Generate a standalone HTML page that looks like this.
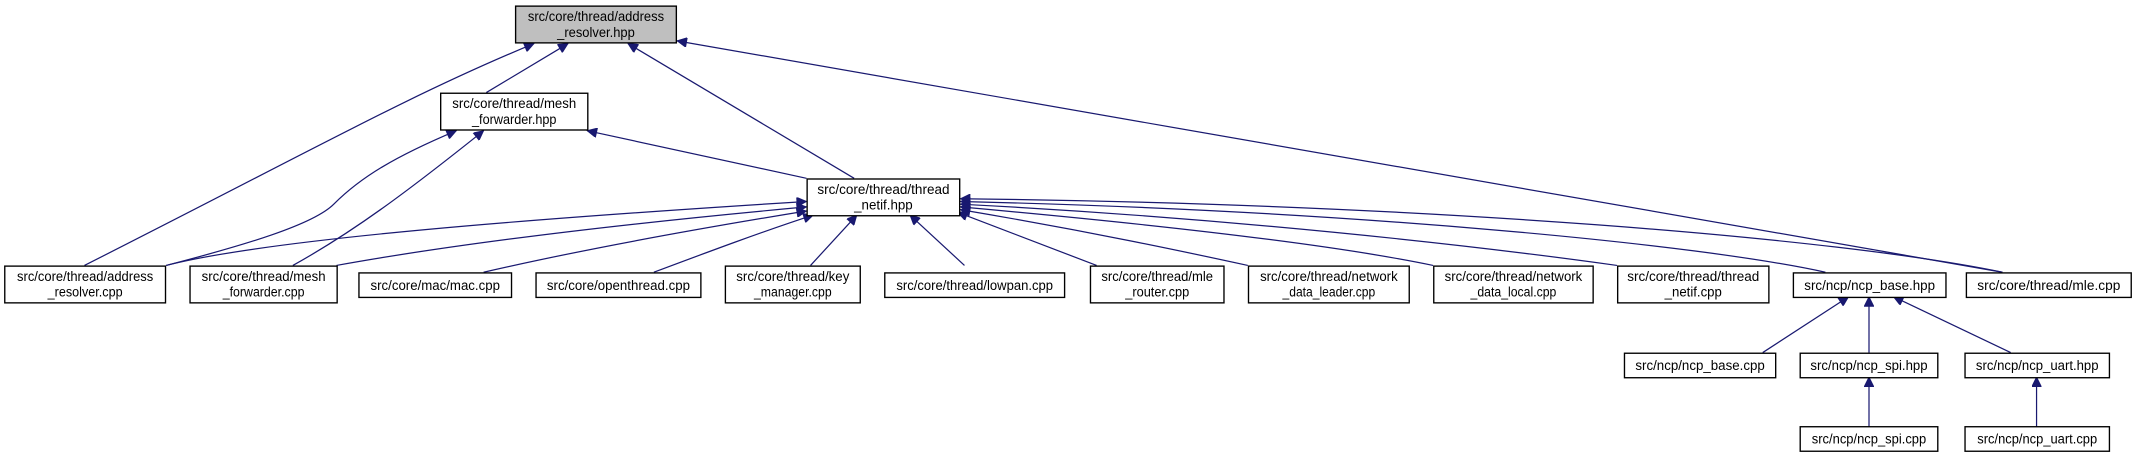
<!DOCTYPE html>
<html><head><meta charset="utf-8"><style>
html,body{margin:0;padding:0;background:#fff;}
svg{display:block;}
text{font-family:"Liberation Sans",Arial,sans-serif;font-size:10px;fill:#000;}
rect{fill:#fff;stroke:#000;stroke-width:1;}
path{fill:none;stroke:#191970;stroke-width:0.9;}
</style></head><body>
<svg width="2136" height="456" viewBox="0 0 1568 335" preserveAspectRatio="none" xmlns="http://www.w3.org/2000/svg">
<defs>
<marker id="a" viewBox="0 0 10 10" refX="0" refY="5" markerWidth="8" markerHeight="7" markerUnits="userSpaceOnUse" orient="auto">
<path d="M0,5 L10,0 L10,10 Z" style="fill:#191970;stroke:#191970"/>
</marker>
</defs>
<g marker-start="url(#a)">
<path d="M392,32 C300,70 230,110 62,195"/>
<path d="M417,32 L357,68"/>
<path d="M461,32 L627,131"/>
<path d="M497,30 L1470,200"/>
<path d="M431,96 L592,131"/>
<path d="M335,96 C290,115 265,130 245,150 C230,165 180,180 122,195"/>
<path d="M355,96 C300,140 260,170 215,195"/>
<path d="M592,148 C400,160 200,175 122,195"/>
<path d="M592,152 C450,165 330,180 247,195"/>
<path d="M592,155 C500,170 420,185 355,200"/>
<path d="M597,158 C560,170 520,185 480,200"/>
<path d="M629,158 L595,195"/>
<path d="M668,158 L708,195"/>
<path d="M703,156 L805,195"/>
<path d="M705,154 C800,170 870,185 916,195"/>
<path d="M705,152 C850,165 980,180 1052,195"/>
<path d="M705,150 C900,160 1080,180 1187,195"/>
<path d="M705,148 C1000,155 1250,180 1340,200"/>
<path d="M705,146 C1050,150 1350,175 1470,200"/>
<path d="M1357,218 L1294,259"/>
<path d="M1372,218 L1372,259"/>
<path d="M1390,218 L1476,259"/>
<path d="M1372,277 L1372,314"/>
<path d="M1495,277 L1495,314"/>
</g>
<g>
<rect x="378.5" y="4.5" width="118" height="27" style="fill:#bfbfbf"/>
<text x="437.5" y="15.5" text-anchor="middle" textLength="100" lengthAdjust="spacingAndGlyphs">src/core/thread/address</text>
<text x="437.5" y="27" text-anchor="middle" textLength="57" lengthAdjust="spacingAndGlyphs">_resolver.hpp</text>

<rect x="323.5" y="68.5" width="108" height="27"/>
<text x="377.5" y="79.5" text-anchor="middle" textLength="91" lengthAdjust="spacingAndGlyphs">src/core/thread/mesh</text>
<text x="377.5" y="91" text-anchor="middle" textLength="62" lengthAdjust="spacingAndGlyphs">_forwarder.hpp</text>

<rect x="592.5" y="131.5" width="112" height="27"/>
<text x="648.5" y="142.5" text-anchor="middle" textLength="97" lengthAdjust="spacingAndGlyphs">src/core/thread/thread</text>
<text x="648.5" y="154" text-anchor="middle" textLength="43" lengthAdjust="spacingAndGlyphs">_netif.hpp</text>

<rect x="3.5" y="195.5" width="118" height="27"/>
<text x="62.5" y="206.5" text-anchor="middle" textLength="100" lengthAdjust="spacingAndGlyphs">src/core/thread/address</text>
<text x="62.5" y="218" text-anchor="middle" textLength="55" lengthAdjust="spacingAndGlyphs">_resolver.cpp</text>

<rect x="139.5" y="195.5" width="108" height="27"/>
<text x="193.5" y="206.5" text-anchor="middle" textLength="91" lengthAdjust="spacingAndGlyphs">src/core/thread/mesh</text>
<text x="193.5" y="218" text-anchor="middle" textLength="60" lengthAdjust="spacingAndGlyphs">_forwarder.cpp</text>

<rect x="263.5" y="200.5" width="112" height="18"/>
<text x="319.5" y="213" text-anchor="middle" textLength="95" lengthAdjust="spacingAndGlyphs">src/core/mac/mac.cpp</text>

<rect x="393.5" y="200.5" width="121" height="18"/>
<text x="454" y="213" text-anchor="middle" textLength="105" lengthAdjust="spacingAndGlyphs">src/core/openthread.cpp</text>

<rect x="532.5" y="195.5" width="99" height="27"/>
<text x="582" y="206.5" text-anchor="middle" textLength="83" lengthAdjust="spacingAndGlyphs">src/core/thread/key</text>
<text x="582" y="218" text-anchor="middle" textLength="57" lengthAdjust="spacingAndGlyphs">_manager.cpp</text>

<rect x="649.5" y="200.5" width="132" height="18"/>
<text x="715.5" y="213" text-anchor="middle" textLength="115" lengthAdjust="spacingAndGlyphs">src/core/thread/lowpan.cpp</text>

<rect x="800.5" y="195.5" width="98" height="27"/>
<text x="849.5" y="206.5" text-anchor="middle" textLength="82" lengthAdjust="spacingAndGlyphs">src/core/thread/mle</text>
<text x="849.5" y="218" text-anchor="middle" textLength="47" lengthAdjust="spacingAndGlyphs">_router.cpp</text>

<rect x="916.5" y="195.5" width="118" height="27"/>
<text x="975.5" y="206.5" text-anchor="middle" textLength="101" lengthAdjust="spacingAndGlyphs">src/core/thread/network</text>
<text x="975.5" y="218" text-anchor="middle" textLength="68" lengthAdjust="spacingAndGlyphs">_data_leader.cpp</text>

<rect x="1052.5" y="195.5" width="117" height="27"/>
<text x="1111" y="206.5" text-anchor="middle" textLength="101" lengthAdjust="spacingAndGlyphs">src/core/thread/network</text>
<text x="1111" y="218" text-anchor="middle" textLength="63" lengthAdjust="spacingAndGlyphs">_data_local.cpp</text>

<rect x="1187.5" y="195.5" width="111" height="27"/>
<text x="1243" y="206.5" text-anchor="middle" textLength="97" lengthAdjust="spacingAndGlyphs">src/core/thread/thread</text>
<text x="1243" y="218" text-anchor="middle" textLength="42" lengthAdjust="spacingAndGlyphs">_netif.cpp</text>

<rect x="1316.5" y="200.5" width="112" height="18"/>
<text x="1372.5" y="213" text-anchor="middle" textLength="96" lengthAdjust="spacingAndGlyphs">src/ncp/ncp_base.hpp</text>

<rect x="1443.5" y="200.5" width="121" height="18"/>
<text x="1504" y="213" text-anchor="middle" textLength="105" lengthAdjust="spacingAndGlyphs">src/core/thread/mle.cpp</text>

<rect x="1192.5" y="259.5" width="111" height="18"/>
<text x="1248" y="272" text-anchor="middle" textLength="95" lengthAdjust="spacingAndGlyphs">src/ncp/ncp_base.cpp</text>

<rect x="1321.5" y="259.5" width="101" height="18"/>
<text x="1372" y="272" text-anchor="middle" textLength="86" lengthAdjust="spacingAndGlyphs">src/ncp/ncp_spi.hpp</text>

<rect x="1442.5" y="259.5" width="106" height="18"/>
<text x="1495.5" y="272" text-anchor="middle" textLength="90" lengthAdjust="spacingAndGlyphs">src/ncp/ncp_uart.hpp</text>

<rect x="1321.5" y="313.5" width="101" height="18"/>
<text x="1372" y="326" text-anchor="middle" textLength="84" lengthAdjust="spacingAndGlyphs">src/ncp/ncp_spi.cpp</text>

<rect x="1442.5" y="313.5" width="106" height="18"/>
<text x="1495.5" y="326" text-anchor="middle" textLength="88" lengthAdjust="spacingAndGlyphs">src/ncp/ncp_uart.cpp</text>
</g>
</svg>
</body></html>
